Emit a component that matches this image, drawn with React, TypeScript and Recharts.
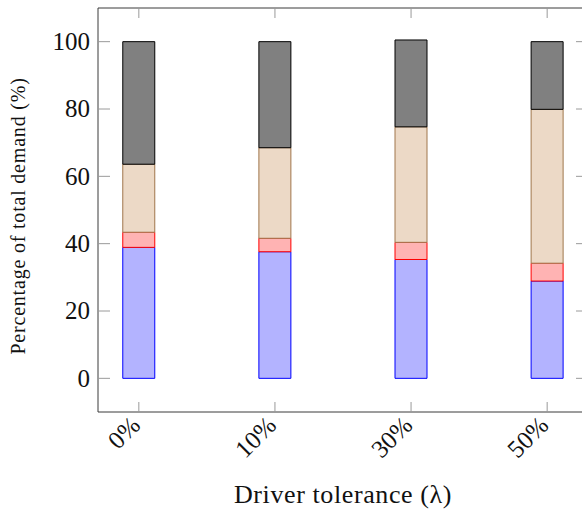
import { BarChart, Bar, XAxis, YAxis } from 'recharts';

const tolerances = ['0%', '10%', '30%', '50%'];
const blueShare = [38.9, 37.6, 35.3, 28.9];
const redShare = [4.5, 4.0, 5.1, 5.3];
const tanShare = [20.2, 26.9, 34.3, 45.7];
const grayShare = [36.4, 31.5, 25.8, 20.1];
const yTicks = [0, 20, 40, 60, 80, 100];

const data = tolerances.map((label, i) => ({
  x: i,
  label,
  blue: blueShare[i],
  red: redShare[i],
  tan: tanShare[i],
  gray: grayShare[i],
}));
const xTicks = data.map((d) => d.x);

const font = '"Liberation Serif", "Times New Roman", serif';
const axisColor = '#3a3a3a';
const tickColor = '#9a9a9a';

function BottomTick(props: any) {
  const { x, y, payload } = props;
  return (
    <g>
      <line x1={x} x2={x} y1={y} y2={y - 10} stroke={tickColor} strokeWidth={1} />
      <text
        transform={`translate(${x - 3},${y + 9}) rotate(-45)`}
        textAnchor="end"
        dy="0.33em"
        fontFamily={font}
        fontSize={25}
        fill="#111"
      >
        {tolerances[payload.value]}
      </text>
    </g>
  );
}

function TopTick(props: any) {
  const { x, y } = props;
  return <line x1={x} x2={x} y1={y} y2={y + 10} stroke={tickColor} strokeWidth={1} />;
}

function LeftTick(props: any) {
  const { x, y, payload } = props;
  return (
    <g>
      <line x1={x} x2={x + 12} y1={y} y2={y} stroke={tickColor} strokeWidth={1} />
      <text x={x - 8} y={y} dy="0.33em" textAnchor="end" fontFamily={font} fontSize={25} fill="#111">
        {payload.value}
      </text>
    </g>
  );
}

function RightTick(props: any) {
  const { x, y } = props;
  return <line x1={x - 12} x2={x} y1={y} y2={y} stroke={tickColor} strokeWidth={1} />;
}

export default function App() {
  return (
    <div
      style={{
        position: 'absolute',
        left: 0,
        top: 0,
        width: 582,
        height: 518,
        overflow: 'hidden',
        background: '#fff',
      }}
    >
      <BarChart width={600} height={518} data={data} margin={{ top: 7, right: 11, bottom: 0, left: 0 }}>
        <XAxis
          dataKey="x"
          type="number"
          domain={[-0.3, 3.3]}
          ticks={xTicks}
          allowDataOverflow
          height={106}
          tickSize={0}
          tickMargin={0}
          tickLine={false}
          axisLine={{ stroke: axisColor, strokeWidth: 1 }}
          tick={(p: any) => <BottomTick {...p} />}
          label={{
            content: (p: any) => {
              const vb = p.viewBox;
              return (
                <text
                  x={vb.x + vb.width / 2}
                  y={vb.y + 91}
                  textAnchor="middle"
                  fontFamily={font}
                  fontSize={26}
                  letterSpacing={0.6}
                  fill="#111"
                >
                  Driver tolerance (λ)
                </text>
              );
            },
          }}
        />
        <XAxis
          xAxisId="top"
          dataKey="x"
          orientation="top"
          type="number"
          domain={[-0.3, 3.3]}
          ticks={xTicks}
          allowDataOverflow
          height={1}
          tickSize={0}
          tickMargin={0}
          tickLine={false}
          axisLine={{ stroke: axisColor, strokeWidth: 1 }}
          tick={(p: any) => <TopTick {...p} />}
        />
        <YAxis
          type="number"
          domain={[-10, 110]}
          ticks={yTicks}
          allowDataOverflow
          width={98}
          tickSize={0}
          tickMargin={0}
          tickLine={false}
          axisLine={{ stroke: axisColor, strokeWidth: 1 }}
          tick={(p: any) => <LeftTick {...p} />}
          label={{
            content: (p: any) => {
              const vb = p.viewBox;
              const cx = vb.x + 25;
              const cy = vb.y + vb.height / 2 + 6;
              return (
                <text
                  transform={`translate(${cx},${cy}) rotate(-90)`}
                  textAnchor="middle"
                  fontFamily={font}
                  fontSize={20}
                  letterSpacing={0.8}
                  fill="#111"
                >
                  Percentage of total demand (%)
                </text>
              );
            },
          }}
        />
        <YAxis
          yAxisId="right"
          orientation="right"
          type="number"
          domain={[-10, 110]}
          ticks={yTicks}
          allowDataOverflow
          width={1}
          tickSize={0}
          tickMargin={0}
          tickLine={false}
          axisLine={{ stroke: axisColor, strokeWidth: 1 }}
          tick={(p: any) => <RightTick {...p} />}
        />
        <Bar dataKey="blue" stackId="s" barSize={32} fill="#b3b3ff" stroke="#0000ff" strokeWidth={1} isAnimationActive={false} />
        <Bar dataKey="red" stackId="s" barSize={32} fill="#ffb3b3" stroke="#ff0000" strokeWidth={1} isAnimationActive={false} />
        <Bar dataKey="tan" stackId="s" barSize={32} fill="#ecd9c6" stroke="#a0764c" strokeWidth={1} isAnimationActive={false} />
        <Bar dataKey="gray" stackId="s" barSize={32} fill="#808080" stroke="#000000" strokeWidth={1} isAnimationActive={false} />
        {/* invisible series so the mirrored top/right axes get drawn */}
        <Bar
          dataKey="gray"
          xAxisId="top"
          yAxisId="right"
          barSize={32}
          fill="none"
          stroke="none"
          isAnimationActive={false}
        />
      </BarChart>
    </div>
  );
}
